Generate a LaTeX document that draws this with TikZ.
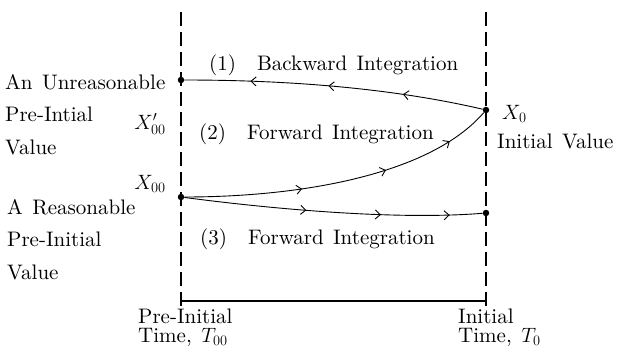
\documentclass[tikz,border=0pt]{standalone}
\usepackage{fontspec}
\setmainfont{lmroman10-regular.otf}[ItalicFont=lmroman10-italic.otf, BoldFont=lmroman10-bold.otf, WordSpace=1.35]
\usetikzlibrary{arrows.meta,decorations.markings,positioning}
\tikzset{
    dot/.style = {circle, fill=black, inner sep=0pt, minimum size=6.5pt},
    timeline/.style = {draw, line width=1.3pt, dash pattern=on 14pt off 6pt},
    path/.style = {draw, line width=0.9pt},
    txt/.style = {inner sep=0pt, align=left, font=\fontsize{21}{32.5}\selectfont},
    timetxt/.style = {inner sep=0pt, align=left, font=\fontsize{21}{19}\selectfont},
    flow/.style n args = {3}{postaction={decorate}, decoration={markings,
        mark=at position #1 with {\arrow{Straight Barb[length=5pt,width=9pt]}},
        mark=at position #2 with {\arrow{Straight Barb[length=5pt,width=9pt]}},
        mark=at position #3 with {\arrow{Straight Barb[length=5pt,width=9pt]}}}}
}
\begin{document}
\begin{tikzpicture}[x=1pt, y=-1pt]
    \useasboundingbox (0,0) rectangle (619,349);

    % Time axes
    \coordinate (ltop) at (181,12);
    \coordinate (lbot) at (181,301);
    \coordinate (rtop) at (486,12);
    \coordinate (rbot) at (486,301);
    \draw [timeline] (ltop) -- (lbot);
    \draw [timeline] (rtop) -- (rbot);
    \draw [line width=1.1pt] (lbot) -- (rbot);
    \draw [line width=1.3pt] (lbot) -- ++(0,5);
    \draw [line width=1.3pt] (rbot) -- ++(0,5);

    % Values
    \node [dot] (unreas) at (181,80) {};
    \node [dot] (x0) at (486,110) {};
    \node [dot] (x00) at (181,197) {};
    \node [dot] (xend) at (486,213) {};

    % Integrations
    \draw [path, flow={0.27}{0.52}{0.78}] (x0) .. controls (400,90) and (300,80) .. (unreas);
    \draw [path, flow={0.37}{0.64}{0.86}] (x00) .. controls (300,197) and (430,175) .. (x0);
    \draw [path, flow={0.41}{0.66}{0.89}] (x00) .. controls (280,210) and (400,220) .. (xend);

    % Labels
    \node [txt, anchor=base west] (back) at (209,70) {(1)\quad Backward Integration};
    \node [txt, anchor=base west] (fwd) at (199,139) {(2)\quad Forward Integration};
    \node [txt, anchor=base west] (fwdok) at (200,244) {(3)\quad Forward Integration};

    \node [txt] (xpname) at (150,124) {$X'_{00}$};
    \node [txt] (xname) at (150,184) {$X_{00}$};
    \node [txt, anchor=base west] (x0name) at (502,119) {$X_0$};
    \node [txt, anchor=base west] (initval) at (497,148) {Initial Value};

    \node [txt, anchor=north west] (unreastxt) at (5,74) {An Unreasonable\\Pre-Intial\\Value};
    \node [txt, anchor=north west] (reastxt) at (7,199) {A Reasonable\\Pre-Initial\\Value};

    \node [timetxt, anchor=north west] (pretime) at (138,309) {Pre-Initial\\Time, $T_{00}$};
    \node [timetxt, anchor=north west] (inittime) at (458,309) {Initial\\Time, $T_0$};
\end{tikzpicture}
\end{document}
